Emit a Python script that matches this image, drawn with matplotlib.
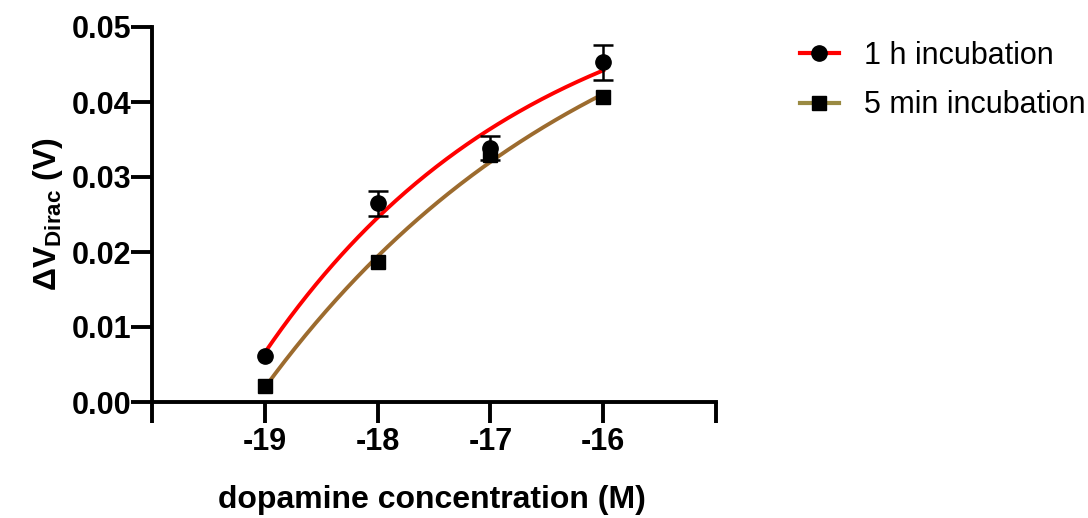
import matplotlib
matplotlib.use("Agg")
import matplotlib.pyplot as plt
import numpy as np
from matplotlib.lines import Line2D

plt.rcParams["font.family"] = ["Liberation Sans", "DejaVu Sans"]
plt.rcParams["mathtext.fontset"] = "custom"
plt.rcParams["mathtext.rm"] = "Liberation Sans"
plt.rcParams["mathtext.bf"] = "Liberation Sans:bold"

# log10 dopamine concentration (M)
conc = [-19, -18, -17, -16]
dv_1h = [0.0061, 0.0265, 0.0339, 0.0453]
err_1h = [0.0004, 0.0017, 0.0016, 0.0023]
dv_5min = [0.0021, 0.0187, 0.0329, 0.0407]
err_5min = [0.0002, 0.0003, 0.0004, 0.0003]

series = [
    ("1 h incubation", dv_1h, err_1h, "o", "#ff0000", "#ff0000"),
    ("5 min incubation", dv_5min, err_5min, "s", "#9c6b2e", "#9a8a42"),
]


def fit_curve(x, y, xs):
    """One-phase association style fit: y = a + b*exp(-k*x), k by grid search."""
    x = np.asarray(x, float); y = np.asarray(y, float)
    best = None
    for k in np.linspace(0.01, 2.0, 400):
        A = np.column_stack([np.ones_like(x), np.exp(-k * (x - x[0]))])
        coef, *_ = np.linalg.lstsq(A, y, rcond=None)
        sse = ((A @ coef - y) ** 2).sum()
        if best is None or sse < best[0]:
            best = (sse, k, coef)
    _, k, coef = best
    return coef[0] + coef[1] * np.exp(-k * (xs - x[0]))


fig = plt.figure(figsize=(10.88, 5.18), dpi=100)
ax = fig.add_axes([152 / 1088, 1 - 402 / 518, (716 - 152) / 1088, (402 - 27) / 518])

xs = np.linspace(conc[0], conc[-1], 200)
handles = []
for label, y, e, m, col, legcol in series:
    ms = 11 if m == "o" else 10
    ax.plot(xs, fit_curve(conc, y, xs), color=col, lw=2.8, zorder=2)
    # bars shorter than the symbol are hidden, as in the original
    vis = [i for i in range(len(conc)) if e[i] > 0.0008]
    ax.errorbar([conc[i] for i in vis], [y[i] for i in vis], yerr=[e[i] for i in vis],
                fmt="none", ecolor="black", elinewidth=1.8, capsize=7, capthick=1.8, zorder=3)
    ax.plot(conc, y, m, color="black", ms=ms, zorder=4)
    handles.append(Line2D([], [], color=legcol, lw=3, marker=m, mfc="black",
                          mec="black", ms=ms, label=label))

ax.set_xlim(-20, -15)
ax.set_ylim(0, 0.05)
ax.set_xticks([-20, -19, -18, -17, -16, -15])
ax.set_xticklabels(["", "-19", "-18", "-17", "-16", ""])
ax.set_yticks([0, 0.01, 0.02, 0.03, 0.04, 0.05])
ax.set_yticklabels(["0.00", "0.01", "0.02", "0.03", "0.04", "0.05"])

for s in ["top", "right"]:
    ax.spines[s].set_visible(False)
for s in ["left", "bottom"]:
    ax.spines[s].set_linewidth(2.8)
ax.tick_params(axis="both", direction="out", width=2.8, labelsize=22)
ax.tick_params(axis="x", length=15, pad=3)
ax.tick_params(axis="y", length=15, pad=0)
for t in ax.get_xticklabels() + ax.get_yticklabels():
    t.set_fontweight("bold")

ax.set_xlabel("dopamine concentration (M)", fontsize=23, fontweight="bold")
ax.xaxis.set_label_coords(0.497, -0.262)
ax.xaxis.label.set_va("center")
ax.set_ylabel(r"$\mathbf{\Delta V_{Dirac}}$ (V)", fontsize=23, fontweight="bold")
ax.yaxis.set_label_coords(-0.185, 0.5)
ax.yaxis.label.set_va("center")

fig.legend(handles=handles, loc="upper left", bbox_to_anchor=(772 / 1088, 1 - 13 / 518),
           frameon=False, fontsize=22, handlelength=1.3, labelspacing=0.65,
           handletextpad=0.8)

fig.savefig("out.png", dpi=100)
